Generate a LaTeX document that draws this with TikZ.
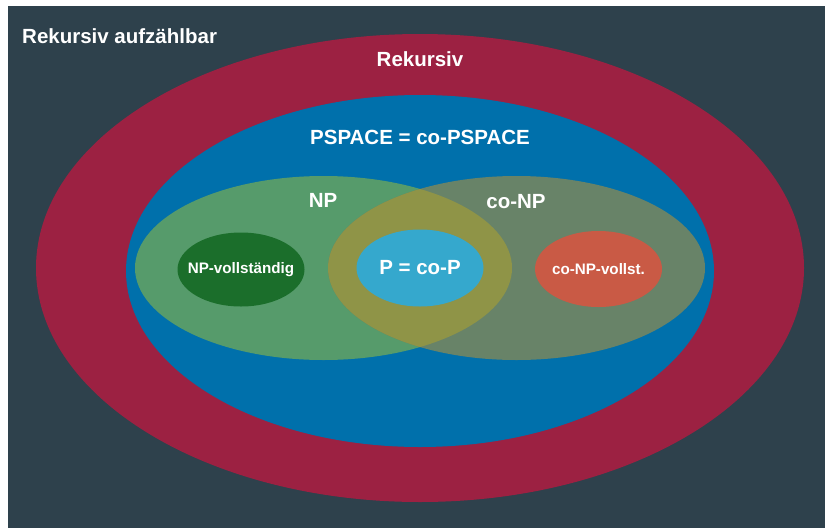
\documentclass[tikz,border=0pt]{standalone}
\usepackage{fontspec}
\setmainfont{Liberation Sans}
\usetikzlibrary{shapes.geometric}
\definecolor{bgc}{HTML}{2E414C}
\definecolor{recc}{HTML}{9C2142}
\definecolor{psc}{HTML}{0070AB}
\definecolor{npc}{HTML}{569B6B}
\definecolor{conpc}{HTML}{688368}
\definecolor{ovc}{HTML}{8F9447}
\definecolor{pc}{HTML}{35A8CD}
\definecolor{npcc}{HTML}{1B6E2B}
\definecolor{conpcc}{HTML}{C95A45}
\tikzset{
  set/.style={ellipse, inner sep=0pt, draw=none},
  lbl/.style={text=white, font=\bfseries\fontsize{20.5}{24}\selectfont, inner sep=0pt},
  slbl/.style={text=white, font=\bfseries\fontsize{15.2}{18}\selectfont, inner sep=0pt},
}
\begin{document}
\begin{tikzpicture}[x=1pt,y=-1pt]
\useasboundingbox (0,0) rectangle (825,528);
\fill[white] (0,0) rectangle (825,528);
\fill[bgc] (8,6) rectangle (825,528);
\node[set, fill=recc, minimum width=768pt, minimum height=468pt] (rek) at (420,268) {};
\node[set, fill=psc, minimum width=588pt, minimum height=352pt] (ps) at (420,271) {};
\node[set, fill=npc, minimum width=377pt, minimum height=184pt] (np) at (323.5,268) {};
\node[set, fill=conpc, minimum width=377pt, minimum height=184pt] (conp) at (516.5,268) {};
\begin{scope}
  \clip (323.5,268) ellipse [x radius=188.5pt, y radius=92pt];
  \fill[ovc] (516.5,268) ellipse [x radius=188.5pt, y radius=92pt];
\end{scope}
\node[set, fill=pc, minimum width=127pt, minimum height=77pt] (p) at (420,268) {};
\node[set, fill=npcc, minimum width=127pt, minimum height=74pt] (npv) at (241,269.5) {};
\node[set, fill=conpcc, minimum width=127pt, minimum height=76pt] (conpv) at (598.5,269) {};
\node[lbl] (tp) at (p.center) {P = co-P};
\node[slbl] (tnpv) at (npv.center) {NP-vollständig};
\node[slbl] (tconpv) at (conpv.center) {co-NP-vollst.};
\node[lbl, anchor=west] (tre) at (22,36) {Rekursiv aufzählbar};
\node[lbl] (trek) at (420,59) {Rekursiv};
\node[lbl] (tps) at (420,137) {PSPACE = co-PSPACE};
\node[lbl] (tnp) at (323,200) {NP};
\node[lbl] (tconp) at (516,202) {co-NP};
\end{tikzpicture}
\end{document}
